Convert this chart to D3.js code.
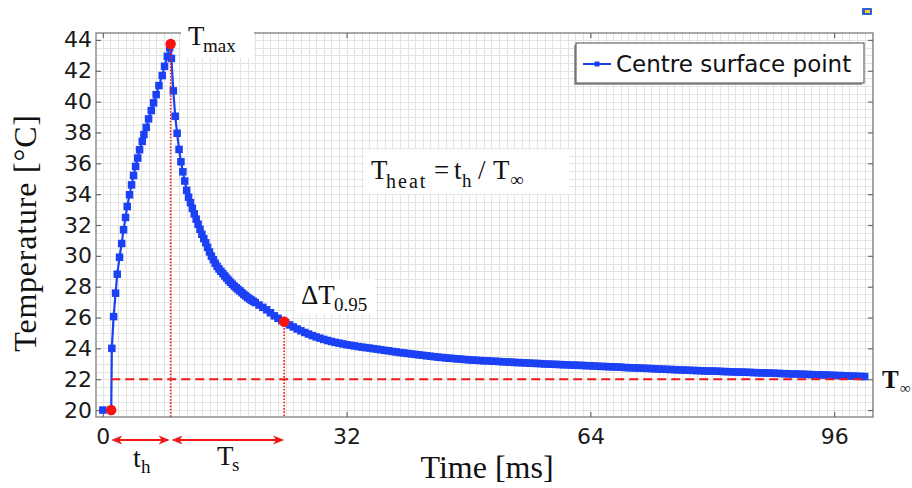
<!DOCTYPE html>
<html>
<head>
<meta charset="utf-8">
<script src="https://cdn.jsdelivr.net/npm/d3@7"></script>
<style>
  html, body { margin: 0; padding: 0; background: #ffffff; }
  svg { display: block; }
  .tick text { font-family: "DejaVu Sans", sans-serif; font-size: 22px; fill: #1a1a1a; }
  .serif { font-family: "Liberation Serif", "Times New Roman", serif; fill: #111111; }
</style>
</head>
<body>
<svg id="chart" width="912" height="488"></svg>
<script>
// ---- data -------------------------------------------------------------
// heating phase: [time (ms), temperature (°C)]
const risePoints = [
  [0, 20.0], [1.1, 20.0], [1.18, 24.0], [1.41, 26.06], [1.67, 27.58],
  [1.89, 28.81], [2.19, 29.91], [2.47, 30.8], [2.72, 31.69], [2.98, 32.49],
  [3.2, 33.2], [3.5, 33.96], [3.77, 34.6], [4.03, 35.21], [4.3, 35.8],
  [4.58, 36.34], [4.82, 36.88], [5.17, 37.42], [5.39, 37.86], [5.7, 38.33],
  [6.0, 38.88], [6.36, 39.42], [6.66, 39.92], [7.0, 40.45], [7.36, 41.04],
  [7.8, 41.69], [8.1, 42.29], [8.46, 42.94], [8.77, 43.49], [8.9, 43.74]
];

// early cooling: sampled every 0.25 ms from 9 ms to 20 ms
const coolStartA = 9.0;
const coolStepA = 0.25;
const coolTempsA = [
  42.8, 40.7, 39.05, 37.95, 36.9, 36.1, 35.45, 34.85, 34.25, 33.8,
  33.45, 33.08, 32.72, 32.38, 32.05, 31.72, 31.4, 31.12, 30.85, 30.55,
  30.25, 29.98, 29.75, 29.52, 29.32, 29.15, 29.0, 28.85, 28.7, 28.56,
  28.42, 28.29, 28.16, 28.04, 27.93, 27.82, 27.72, 27.61, 27.5, 27.4,
  27.3, 27.21, 27.13, 27.05, 26.97
];

// late cooling: sampled every 0.5 ms from 20.5 ms to 100 ms
const coolStartB = 20.5;
const coolStepB = 0.5;
const coolTempsB = [
  26.81, 26.66, 26.5, 26.31, 26.11, 25.95, 25.8,
  25.66, 25.52, 25.39, 25.26, 25.14, 25.03, 24.93, 24.83, 24.74, 24.66,
  24.58, 24.51, 24.45, 24.39, 24.34, 24.29, 24.24, 24.2, 24.16, 24.12,
  24.08, 24.05, 24.02, 23.98, 23.95, 23.91, 23.87, 23.84, 23.8, 23.77,
  23.73, 23.7, 23.67, 23.64, 23.61, 23.58, 23.55, 23.52, 23.49, 23.46,
  23.43, 23.41, 23.38, 23.36, 23.34, 23.32, 23.3, 23.28, 23.26, 23.24,
  23.23, 23.21, 23.2, 23.19, 23.17, 23.16, 23.15, 23.13, 23.12, 23.11,
  23.09, 23.08, 23.07, 23.06, 23.04, 23.03, 23.02, 23.01, 22.99, 22.98,
  22.97, 22.96, 22.95, 22.94, 22.93, 22.92, 22.91, 22.9, 22.89, 22.88,
  22.87, 22.86, 22.84, 22.83, 22.82, 22.81, 22.8, 22.79, 22.78, 22.76,
  22.75, 22.74, 22.73, 22.72, 22.71, 22.7, 22.69, 22.67, 22.66, 22.65,
  22.64, 22.63, 22.62, 22.61, 22.6, 22.59, 22.58, 22.57, 22.56, 22.55,
  22.54, 22.53, 22.53, 22.52, 22.51, 22.5, 22.49, 22.48, 22.47, 22.46,
  22.46, 22.45, 22.44, 22.43, 22.42, 22.41, 22.4, 22.4, 22.39, 22.38,
  22.37, 22.36, 22.35, 22.34, 22.34, 22.33, 22.32, 22.31, 22.3, 22.29,
  22.29, 22.28, 22.27, 22.26, 22.25, 22.24, 22.23, 22.22, 22.21, 22.2,
  22.19, 22.18, 22.17
];

// characteristic points
const heatOn = { t: 1.1, T: 20.0 };
const peak = { t: 8.9, T: 43.74 };
const point95 = { t: 23.8, T: 25.73 };
const tInfinity = 22.0;
const tEnd = 100;

// axis ticks
const xTicks = [0, 32, 64, 96];
const yTicks = [20, 22, 24, 26, 28, 30, 32, 34, 36, 38, 40, 42, 44];
const seriesName = "Centre surface point";

// ---- layout -------------------------------------------------------------
const plot = { left: 96, right: 873, top: 33, bottom: 417 };
const blue = "#1c40f4";
const red = "#f01818";

const svg = d3.select("#chart");
svg.append("rect").attr("width", 912).attr("height", 488).attr("fill", "#ffffff");

const x = d3.scaleLinear().domain([-0.9, 101.1]).range([plot.left, plot.right]);
const y = d3.scaleLinear().domain([19.55, 44.45]).range([plot.bottom, plot.top]);

// fine grid: every 1 ms and every 0.5 °C
const gridX = d3.range(0, 101.5, 1);
const gridY = d3.range(20, 44.01, 0.5);
const grid = svg.append("g").attr("stroke", "#e3e3e3").attr("stroke-width", 1);
grid.selectAll("line.gx").data(gridX).join("line").attr("class", "gx")
  .attr("x1", d => Math.round(x(d)) + 0.5).attr("x2", d => Math.round(x(d)) + 0.5)
  .attr("y1", plot.top).attr("y2", plot.bottom);
grid.selectAll("line.gy").data(gridY).join("line").attr("class", "gy")
  .attr("y1", d => Math.round(y(d)) + 0.5).attr("y2", d => Math.round(y(d)) + 0.5)
  .attr("x1", plot.left).attr("x2", plot.right);

// frame
svg.append("rect")
  .attr("x", plot.left).attr("y", plot.top)
  .attr("width", plot.right - plot.left).attr("height", plot.bottom - plot.top)
  .attr("fill", "none").attr("stroke", "#7d7d7d").attr("stroke-width", 1.3);

// axes with inward ticks
const axB = svg.append("g").attr("transform", `translate(0,${plot.bottom})`)
  .call(d3.axisBottom(x).tickValues(xTicks).tickSizeInner(-5).tickSizeOuter(0).tickPadding(11));
const axL = svg.append("g").attr("transform", `translate(${plot.left},0)`)
  .call(d3.axisLeft(y).tickValues(yTicks).tickSizeInner(-5).tickSizeOuter(0).tickPadding(4));
const axT = svg.append("g").attr("transform", `translate(0,${plot.top})`)
  .call(d3.axisTop(x).tickValues(xTicks).tickSizeInner(-5).tickSizeOuter(0).tickFormat(""));
const axR = svg.append("g").attr("transform", `translate(${plot.right},0)`)
  .call(d3.axisRight(y).tickValues(yTicks).tickSizeInner(-5).tickSizeOuter(0).tickFormat(""));
[axB, axL, axT, axR].forEach(a => {
  a.select(".domain").remove();
  a.selectAll(".tick line").attr("stroke", "#6a6a6a").attr("stroke-width", 1.2);
});

// ---- series -------------------------------------------------------------
const series = risePoints.map(([t, T]) => ({ t, T }))
  .concat(coolTempsA.map((T, i) => ({ t: coolStartA + i * coolStepA, T })))
  .concat(coolTempsB.map((T, i) => ({ t: coolStartB + i * coolStepB, T })));

const line = d3.line().x(d => x(d.t)).y(d => y(d.T));
svg.append("path").datum(series)
  .attr("d", line).attr("fill", "none").attr("stroke", blue).attr("stroke-width", 2.2);

const ms = 7.5;
svg.append("g").selectAll("rect").data(series).join("rect")
  .attr("x", d => x(d.t) - ms / 2).attr("y", d => y(d.T) - ms / 2)
  .attr("width", ms).attr("height", ms).attr("fill", blue);

// ---- annotations --------------------------------------------------------
// asymptote T∞
svg.append("line")
  .attr("x1", x(heatOn.t)).attr("x2", x(tEnd))
  .attr("y1", y(tInfinity)).attr("y2", y(tInfinity))
  .attr("stroke", red).attr("stroke-width", 2).attr("stroke-dasharray", "9,5");

// dotted drop lines
[peak, point95].forEach(p => {
  svg.append("line")
    .attr("x1", x(p.t)).attr("x2", x(p.t))
    .attr("y1", y(p.T)).attr("y2", plot.bottom)
    .attr("stroke", red).attr("stroke-width", 1.6).attr("stroke-dasharray", "1.6,1.6");
});

// key points
svg.append("g").selectAll("circle").data([heatOn, peak, point95]).join("circle")
  .attr("cx", d => x(d.t)).attr("cy", d => y(d.T)).attr("r", 5.2).attr("fill", "#ff1010");

// double-headed arrows under the axis
function arrow(xa, xb, yy) {
  const g = svg.append("g");
  g.append("line").attr("x1", xa + 2).attr("x2", xb - 2).attr("y1", yy).attr("y2", yy)
    .attr("stroke", red).attr("stroke-width", 2);
  const hl = 11, hw = 4.5;
  g.append("path").attr("d", `M${xa},${yy} L${xa + hl},${yy - hw} L${xa + hl - 3},${yy} L${xa + hl},${yy + hw} Z`).attr("fill", red);
  g.append("path").attr("d", `M${xb},${yy} L${xb - hl},${yy - hw} L${xb - hl + 3},${yy} L${xb - hl},${yy + hw} Z`).attr("fill", red);
}
arrow(x(heatOn.t), x(peak.t) - 1, 440);
arrow(x(peak.t) + 1, x(point95.t), 440);

// label helper: main glyphs plus a subscript
function label(parts) {
  parts.forEach(p => {
    svg.append("text").attr("class", "serif")
      .attr("x", p.x).attr("y", p.y)
      .attr("font-size", p.size)
      .attr("font-weight", p.bold ? "bold" : "normal")
      .attr("letter-spacing", p.ls || 0)
      .text(p.text);
  });
}

// T_max
svg.append("rect").attr("x", 181).attr("y", 24).attr("width", 73).attr("height", 34).attr("fill", "#ffffff");
label([
  { text: "T", x: 188, y: 45, size: 27 },
  { text: "max", x: 203, y: 52, size: 19 }
]);

// T_heat = t_h / T_inf
svg.append("rect").attr("x", 364).attr("y", 149).attr("width", 205).attr("height", 45).attr("fill", "#ffffff");
label([
  { text: "T", x: 371, y: 179, size: 27 },
  { text: "heat", x: 386, y: 188, size: 20, ls: 2 },
  { text: "=", x: 434, y: 179, size: 27 },
  { text: "t", x: 454, y: 179, size: 27 },
  { text: "h", x: 462, y: 187, size: 19 },
  { text: "/", x: 478, y: 179, size: 27 },
  { text: "T", x: 493, y: 179, size: 27 },
  { text: "\u221E", x: 510, y: 186, size: 19 }
]);

// ΔT_0.95
svg.append("rect").attr("x", 295).attr("y", 279).attr("width", 80).attr("height", 35).attr("fill", "#ffffff");
label([
  { text: "\u0394T", x: 301, y: 304, size: 27 },
  { text: "0.95", x: 334, y: 311, size: 19 }
]);

// t_h and T_s under the arrows
label([
  { text: "t", x: 133, y: 467, size: 28 },
  { text: "h", x: 141, y: 473, size: 19 },
  { text: "T", x: 217, y: 465, size: 27 },
  { text: "s", x: 232, y: 471, size: 19 }
]);

// T_inf at the right edge
label([
  { text: "T", x: 882, y: 388, size: 25, bold: true },
  { text: "\u221E", x: 900, y: 393, size: 15, bold: true }
]);

// axis titles
svg.append("text").attr("class", "serif")
  .attr("transform", "translate(36,233) rotate(-90)")
  .attr("text-anchor", "middle").attr("font-size", 32).attr("letter-spacing", 0.8)
  .text("Temperature [\u00B0C]");
svg.append("text").attr("class", "serif")
  .attr("x", 487).attr("y", 478)
  .attr("text-anchor", "middle").attr("font-size", 32)
  .text("Time [ms]");

// legend
const lg = svg.append("g");
lg.append("rect").attr("x", 574).attr("y", 45).attr("width", 288).attr("height", 40).attr("fill", "#a0a0a0");
lg.append("rect").attr("x", 576).attr("y", 43).attr("width", 288).attr("height", 40)
  .attr("fill", "#ffffff").attr("stroke", "#4a4a4a").attr("stroke-width", 1);
lg.append("line").attr("x1", 583).attr("x2", 611).attr("y1", 64).attr("y2", 64)
  .attr("stroke", blue).attr("stroke-width", 2);
lg.append("rect").attr("x", 594.5).attr("y", 61.5).attr("width", 5).attr("height", 5).attr("fill", blue);
lg.append("text").attr("x", 616).attr("y", 72)
  .attr("font-family", "'DejaVu Sans', sans-serif").attr("font-size", 23).attr("fill", "#111111")
  .text(seriesName);

// small toolbar icon in the corner
svg.append("rect").attr("x", 862).attr("y", 8).attr("width", 10).attr("height", 7).attr("rx", 1).attr("fill", "#2d5fd0");
svg.append("rect").attr("x", 865).attr("y", 10).attr("width", 5).attr("height", 3).attr("fill", "#f3d22a");
</script>
</body>
</html>
